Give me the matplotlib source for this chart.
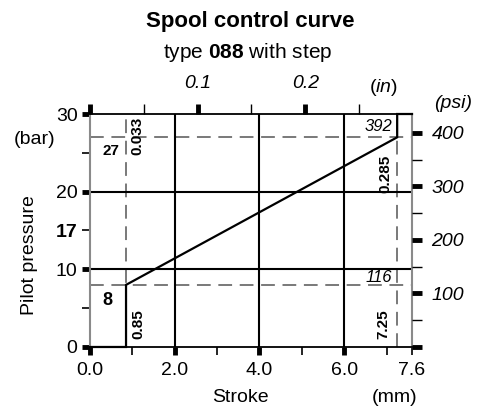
import matplotlib.pyplot as plt

plt.rcParams['font.family'] = ['Liberation Sans', 'DejaVu Sans']
plt.rcParams['mathtext.fontset'] = 'custom'
plt.rcParams['mathtext.rm'] = 'Liberation Sans'
plt.rcParams['mathtext.bf'] = 'Liberation Sans:bold'
plt.rcParams['mathtext.it'] = 'Liberation Sans:italic'

# Control curve: stroke (mm) vs pilot pressure (bar)
stroke_mm = [0.0, 0.85, 0.85, 7.25, 7.25, 7.6]
pressure_bar = [0, 0, 8, 27, 30, 30]

step_start_mm = 0.85
step_end_mm = 7.25
low_bar = 8
high_bar = 27

X_MAX = 7.6
Y_MAX = 30
BAR_TO_PSI = 14.5038
MM_PER_IN = 25.4

x_major = [0, 2, 4, 6]
x_minor = [1, 3, 5, 7, 7.6]
x_labels = ['0.0', '2.0', '4.0', '6.0']
y_major = [0, 10, 20, 30]
y_minor = [5, 15, 25]
psi_major = [0, 100, 200, 300, 400]
psi_minor = [50, 150, 250, 350]
in_major = [0, 0.1, 0.2]
in_minor = [0.05, 0.15, 0.25]

GRID_X = [2, 4, 6]
GRID_Y = [10, 20]
DASH = '#555555'
SPINE = '#8a8a8a'
FS = 14

fig = plt.figure(figsize=(4.85, 4.12), dpi=100)
ax = fig.add_axes([0.1856, 0.1578, 0.6639, 0.5655])

ax.set_xlim(0, X_MAX)
ax.set_ylim(0, Y_MAX)

for x in GRID_X:
    ax.axvline(x, color='black', lw=1.5, zorder=2)
for y in GRID_Y:
    ax.axhline(y, color='black', lw=1.5, zorder=2)

for x in (step_start_mm, step_end_mm):
    ax.axvline(x, color=DASH, lw=1.1, dashes=(9, 5), zorder=1)
for y in (low_bar, high_bar):
    ax.axhline(y, color=DASH, lw=1.1, dashes=(9, 5), zorder=1)

ax.plot(stroke_mm, pressure_bar, color='black', lw=1.6, zorder=4,
        solid_joinstyle='miter', clip_on=False)

# left / bottom axes
ax.set_xticks(x_major, x_labels)
ax.set_xticks(x_minor, ['', '', '', '', '7.6'], minor=True)
ax.set_yticks(y_major, [str(v) for v in y_major])
ax.set_yticks(y_minor, ['', '17', ''], minor=True)
ax.tick_params(which='major', length=6, width=3.5, labelsize=FS, color='black')
ax.tick_params(which='minor', length=6, width=1.2, labelsize=FS, color='black')
ax.tick_params(axis='x', which='both', pad=5)
ax.tick_params(axis='y', which='both', pad=3)
for lbl in ax.get_yticklabels(minor=True):
    lbl.set_fontweight('bold')

ax.spines['left'].set_color(SPINE)
ax.spines['right'].set_color(SPINE)
ax.spines['left'].set_linewidth(1.5)
ax.spines['right'].set_linewidth(1.5)
ax.spines['top'].set_linewidth(1.3)
ax.spines['bottom'].set_linewidth(1.3)

# right axis in psi
axr = ax.twinx()
axr.set_ylim(0, Y_MAX * BAR_TO_PSI)
axr.set_yticks(psi_major, ['', '100', '200', '300', '400'])
axr.set_yticks(psi_minor, minor=True)
axr.tick_params(which='major', length=7, width=3.5, labelsize=FS, pad=7)
axr.tick_params(which='minor', length=7, width=1.0)
for lbl in axr.get_yticklabels():
    lbl.set_fontstyle('italic')
for s in axr.spines.values():
    s.set_visible(False)

# top axis in inches
axt = ax.twiny()
axt.set_xlim(0, X_MAX / MM_PER_IN)
axt.set_xticks(in_major, ['', '0.1', '0.2'])
axt.set_xticks(in_minor, minor=True)
axt.tick_params(which='major', length=7, width=3.5, labelsize=FS, pad=9)
axt.tick_params(which='minor', length=7, width=1.0)
for lbl in axt.get_xticklabels():
    lbl.set_fontstyle('italic')
for s in axt.spines.values():
    s.set_visible(False)

# axis captions
fig.text(30 / 485, 1 - 255 / 412, 'Pilot pressure', rotation=90,
         ha='center', va='center', fontsize=FS)
fig.text(35 / 485, 1 - 139 / 412, '(bar)', ha='center', va='center', fontsize=FS)
fig.text(453 / 485, 1 - 104 / 412, '(psi)', ha='center', va='center',
         fontsize=FS, style='italic')
fig.text(383 / 485, 1 - 87 / 412, r'($\mathit{in}$)', ha='center', va='center',
         fontsize=FS)
fig.text(240 / 485, 1 - 397 / 412, 'Stroke', ha='center', va='center', fontsize=FS)
fig.text(395 / 485, 1 - 397 / 412, '(mm)', ha='center', va='center', fontsize=FS)

fig.text(250 / 485, 1 - 22 / 412, 'Spool control curve', ha='center',
         va='center', fontsize=16, fontweight='bold')
fig.text(248 / 485, 1 - 52 / 412, r'type $\mathbf{088}$ with step',
         ha='center', va='center', fontsize=15)

# value annotations
ax.text(0.3, high_bar - 1.8, str(high_bar), ha='left', va='center',
        fontsize=11, fontweight='bold')
ax.text(0.3, low_bar - 2.0, str(low_bar), ha='left', va='center',
        fontsize=13, fontweight='bold')
ax.text(1.12, 27.2, '0.033', rotation=90, ha='center', va='center',
        fontsize=11, fontweight='bold')
ax.text(1.15, 3.0, str(step_start_mm), rotation=90, ha='center', va='center',
        fontsize=11, fontweight='bold')
ax.text(6.97, 22.3, '0.285', rotation=90, ha='center', va='center',
        fontsize=11, fontweight='bold')
ax.text(6.92, 3.0, str(step_end_mm), rotation=90, ha='center', va='center',
        fontsize=11, fontweight='bold')
ax.text(7.14, 28.4, f'{high_bar * BAR_TO_PSI:.0f}', ha='right', va='center',
        fontsize=12, style='italic')
ax.text(7.14, 9.0, f'{low_bar * BAR_TO_PSI:.0f}', ha='right', va='center',
        fontsize=12, style='italic')

fig.savefig('out.png', dpi=100)
